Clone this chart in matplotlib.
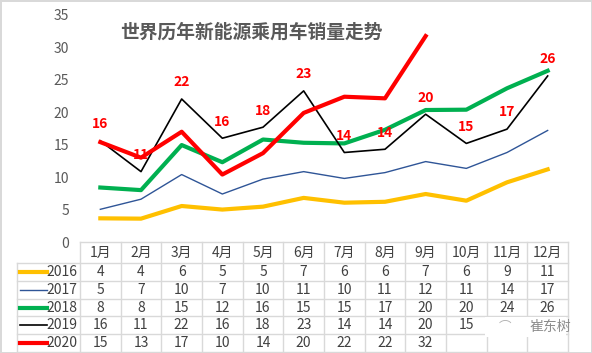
import numpy as np
import matplotlib
matplotlib.use('Agg')
import matplotlib.pyplot as plt
from matplotlib.patches import Rectangle

plt.rcParams['font.family'] = ['Noto Sans CJK SC', 'DejaVu Sans']

# data (lines), table shows rounded values
months = ['1月', '2月', '3月', '4月', '5月', '6月', '7月', '8月', '9月', '10月', '11月', '12月']
years = ['2016', '2017', '2018', '2019', '2020']
sales_2016 = [3.65, 3.6, 5.55, 5.0, 5.45, 6.8, 6.06, 6.2, 7.4, 6.37, 9.2, 11.2]
sales_2017 = [5.04, 6.6, 10.4, 7.4, 9.7, 10.85, 9.8, 10.7, 12.4, 11.35, 13.8, 17.2]
sales_2018 = [8.4, 8.0, 14.95, 12.3, 15.8, 15.3, 15.2, 17.3, 20.35, 20.4, 23.7, 26.4]
sales_2019 = [15.6, 10.85, 22.05, 16.0, 17.7, 23.3, 13.8, 14.3, 19.7, 15.2, 17.4, 25.6]
sales_2020 = [15.4, 13.0, 17.0, 10.4, 13.7, 19.9, 22.4, 22.15, 31.75]
title = '世界历年新能源乘用车销量走势'

series = [sales_2016, sales_2017, sales_2018, sales_2019, sales_2020]
colors = ['#FFC000', '#2F5597', '#00B050', '#000000', '#FF0000']
widths = [3.0, 1.0, 3.0, 1.2, 3.0]

W, H = 592, 353
fig = plt.figure(figsize=(W/100, H/100), dpi=100)
fig.patch.set_edgecolor('#d9d9d9')
fig.patch.set_linewidth(2)

ax = fig.add_axes([80/W, 1-242/H, 488/W, (242-15)/H])
x = np.arange(12)
for vals, c, lw in zip(series, colors, widths):
    ax.plot(x[:len(vals)], vals, color=c, lw=lw)

for i, v in enumerate(sales_2019):
    ax.annotate(f"{v:.0f}", (i, v), xytext=(0, 12), textcoords='offset points',
                ha='center', va='center', color='#FF0000', fontweight='bold', fontsize=10)

ax.set_xlim(-0.5, 11.5)
ax.set_ylim(0, 35)
ax.set_yticks(np.arange(0, 36, 5))
ax.set_xticks([])
for s in ax.spines.values():
    s.set_visible(False)
ax.tick_params(axis='y', length=0, pad=8, labelsize=10, labelcolor='#595959')

fig.text(120/W, 1-32/H, title, ha='left', va='center', fontsize=13.5,
         color='#595959', fontweight='bold')

# data table under the plot
tab = fig.add_axes([80/W, 1-352/H, 488/W, (352-242)/H])
tab.set_xlim(-0.5, 11.5)
tab.set_ylim(352, 242)
tab.axis('off')
grid_c = '#d9d9d9'
left = -0.5 - (80-17)/40.67
rows = [242, 263, 280.8, 298.6, 316.4, 334.2, 352]

tab.plot([-0.5, 11.5], [rows[0], rows[0]], color=grid_c, lw=1, clip_on=False)
for r in rows[1:]:
    tab.plot([left, 11.5], [r, r], color=grid_c, lw=1, clip_on=False)
for k in range(13):
    tab.plot([k-0.5, k-0.5], [rows[0], rows[-1]], color=grid_c, lw=1, clip_on=False)
tab.plot([left, left], [rows[1], rows[-1]], color=grid_c, lw=1, clip_on=False)

for i, m in enumerate(months):
    tab.text(i, (rows[0]+rows[1])/2, m, ha='center', va='center', fontsize=10, color='#404040')

# cells hidden under the watermark in the source picture
hidden = {(3, 10), (3, 11)}
for j, (yr, vals, c, lw) in enumerate(zip(years, series, colors, widths)):
    yc = (rows[j+1]+rows[j+2])/2
    tab.plot([-1.975, -1.31], [yc, yc], color=c, lw=lw, clip_on=False)
    tab.text(-0.57, yc, yr, ha='right', va='center', fontsize=10, color='#404040')
    for i, v in enumerate(vals):
        if (j, i) in hidden:
            continue
        tab.text(i, yc, f"{v:.0f}", ha='center', va='center', fontsize=10, color='#404040')

# watermark patch covering part of the table
fig.patches.append(Rectangle((485/W, 1-337/H), (566-485)/W, 20/H, transform=fig.transFigure,
                             facecolor='white', edgecolor='none', zorder=5))
fig.text(505/W, 1-327/H, '⌒', ha='center', va='center', fontsize=9, color='#b0b0b0', zorder=6)
fig.text(550/W, 1-327/H, '崔东树', ha='center', va='center', fontsize=10, color='#8c8c8c', zorder=6)

fig.savefig('out.png', dpi=100)
